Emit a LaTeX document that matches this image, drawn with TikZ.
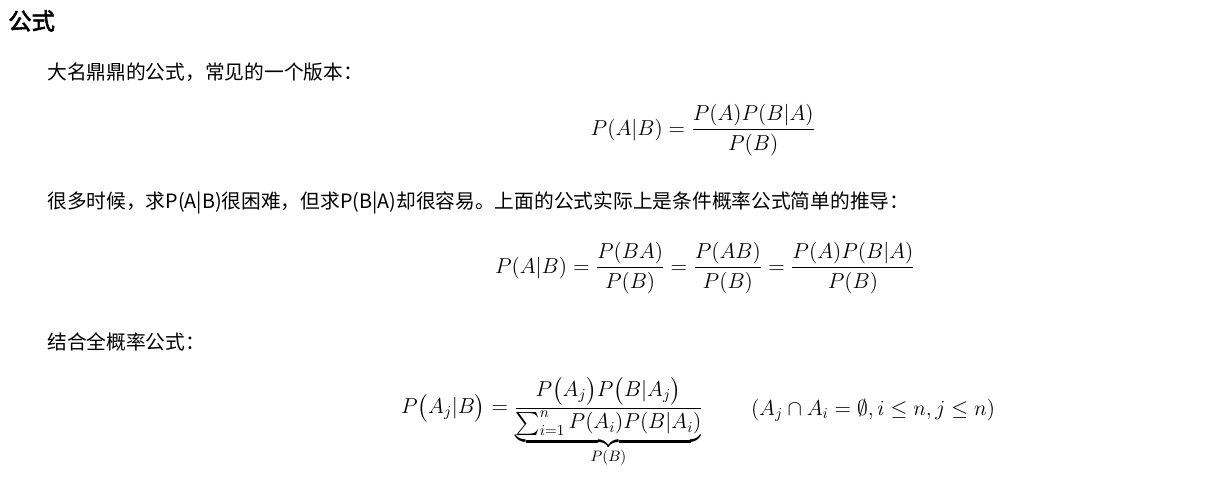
\RequirePackage{fix-cm}
\documentclass[tikz,border=0pt]{standalone}
\usepackage{amsmath}
\usepackage{fontspec}
\newfontfamily\cjk[AutoFakeBold=2.5]{Noto Sans CJK SC}
\begin{document}
\begin{tikzpicture}[x=0.75pt,y=-0.75pt,
  txt/.style={anchor=west,inner sep=0pt,font=\cjk\fontsize{14.8}{17}\selectfont},
  eq/.style={inner sep=0pt,font=\fontsize{16.2}{19}\selectfont}]
\useasboundingbox (0,0) rectangle (1219,479);
\node[anchor=west,inner sep=0pt,font=\cjk\bfseries\fontsize{17.5}{19}\selectfont] (title) at (8,21) {公式};
\node[txt] (t1) at (47,72) {大名鼎鼎的公式，常见的一个版本：};
\node[eq] (f1) at (703,130) {$P(A|B)=\dfrac{P(A)P(B|A)}{P(B)}$};
\node[txt] (t2) at (47,203) {很多时候，求P(A|B)很困难，但求P(B|A)却很容易。上面的公式实际上是条件概率公式简单的推导：};
\node[eq] (f2) at (705,268) {$P(A|B)=\dfrac{P(BA)}{P(B)}=\dfrac{P(AB)}{P(B)}=\dfrac{P(A)P(B|A)}{P(B)}$};
\node[txt] (t3) at (47,342) {结合全概率公式：};
\node[eq,anchor=north] (f3) at (552,377) {$P\big(A_j|B\big)=\dfrac{P\big(A_j\big)P\big(B|A_j\big)}{\underbrace{\textstyle\sum_{i=1}^{n}P(A_i)P(B|A_i)}_{P(B)}}$};
\node[eq] (c3) at (873,410) {$(A_j\cap A_i=\emptyset,i\le n,j\le n)$};
\end{tikzpicture}
\end{document}
